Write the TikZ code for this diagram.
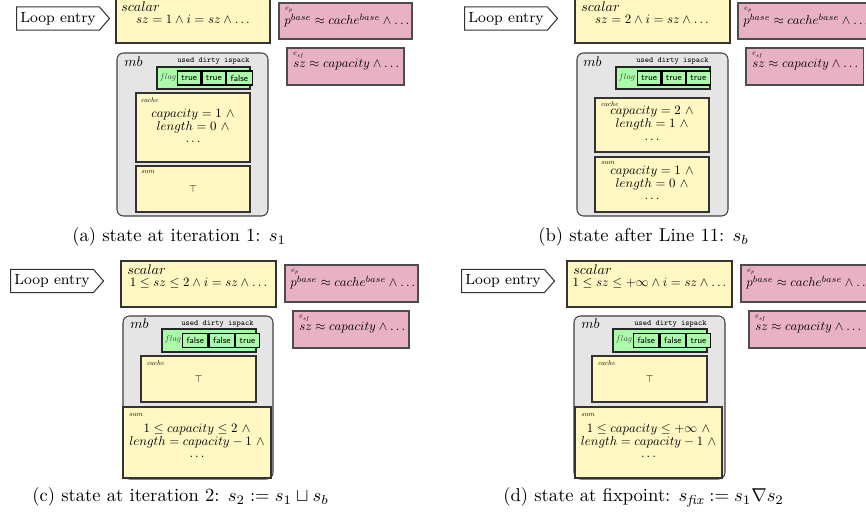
\documentclass[tikz,border=0pt]{standalone}
\usepackage{amsmath}
\usetikzlibrary{fit,shapes.symbols}

\definecolor{yel}{RGB}{255,248,194}
\definecolor{pnk}{RGB}{233,178,196}
\definecolor{grn}{RGB}{170,250,170}
\definecolor{gry}{RGB}{229,229,229}

% scaled math helpers (math sizes do not scale freely)
\newcommand\mth[1]{\scalebox{0.69}{$#1$}}
\newcommand\mlines[1]{\scalebox{0.69}{\def\arraystretch{0.81}\begin{tabular}{@{}c@{}}#1\end{tabular}}}
\newcommand\mhead[1]{\scalebox{0.75}{$#1$}}
\newcommand\mtiny[1]{\scalebox{0.38}{$#1$}}
\newcommand\medge[1]{\scalebox{0.42}{$#1$}}
\newcommand\mflag[1]{\scalebox{0.45}{$#1$}}
\newcommand\mtop{\scalebox{0.55}{$\top$}}

\tikzset{
  yelbox/.style={draw=black!80, fill=yel, line width=0.55pt, inner sep=0pt},
  pnkbox/.style={draw=black!70, fill=pnk, line width=0.55pt, inner sep=0pt},
  mbbox/.style={draw=black!75, fill=gry, rounded corners=3.5pt, line width=0.55pt, inner sep=0pt},
  flagbox/.style={draw=black!85, fill=grn, line width=0.55pt, inner sep=0pt},
  cell/.style={draw=black, fill=grn, line width=0.6pt, minimum height=7.5pt, inner sep=0pt,
    anchor=west, font=\fontsize{4.8}{5}\sffamily},
  cellT/.style={cell, minimum width=12.6pt},
  cellF/.style={cell, minimum width=13.7pt},
  loopbox/.style={signal, signal to=east, signal pointer angle=98, draw=black!80, fill=white,
    line width=0.55pt, minimum width=50pt, minimum height=12.4pt, inner xsep=2pt, inner ysep=0pt,
    font=\fontsize{7.9}{9}\selectfont, anchor=west},
  hdr/.style={inner sep=0pt, anchor=base west},
  cnt/.style={inner sep=0pt},
  lbl/.style={inner sep=0pt, anchor=base west},
  tag/.style={inner sep=0pt, anchor=base east, font=\fontsize{4.3}{5}\ttfamily},
  flg/.style={inner sep=0pt, anchor=base west, text=black!75},
  subcap/.style={inner sep=0pt, anchor=base west, font=\fontsize{10}{12}\selectfont},
}

\begin{document}
\begin{tikzpicture}[x=0.5376pt, y=-0.5376pt]
\useasboundingbox (0,0) rectangle (866,516);

% ---------- (a) state at iteration 1 ----------
\node[loopbox] (la) at (16,18.5) {Loop entry};
\node[yelbox, fit={(116,-3) (270,43)}] (sa) {};
\node[hdr] (sah) at (121,12) {\mhead{scalar}};
\node[cnt, anchor=base] (sam) at (193,24) {\mth{sz = 1 \wedge i = sz \wedge \ldots}};
\node[pnkbox, fit={(279,3) (412,39)}] (pa) {};
\node[lbl] (pal) at (285,10.5) {\medge{e_p}};
\node[cnt, anchor=base west] (pam) at (284,25) {\mth{p^{base} \approx cache^{base} \wedge \ldots}};
\node[pnkbox, fit={(287,48) (404,85)}] (qa) {};
\node[lbl] (qal) at (293,56) {\medge{e_{sf}}};
\node[cnt, anchor=base west] (qam) at (293,68) {\mth{sz \approx capacity \wedge \ldots}};
\node[mbbox, fit={(117,53) (268,216)}] (ma) {};
\node[hdr] (mah) at (124,67) {\mhead{mb}};
\node[tag] (mat) at (250,63) {used dirty ispack};
\node[flagbox, fit={(157,67) (250,89)}] (fa) {};
\node[flg] (fal) at (159.5,80) {\mflag{flag}};
\node[cellT] (fa1) at (177,78) {true};
\node[cellT] (fa2) at (fa1.east) {true};
\node[cellF] (fa3) at (fa2.east) {false};
\node[yelbox, fit={(136,93) (250,162)}] (ca) {};
\node[lbl] (cal) at (141,103) {\mtiny{cache}};
\node[cnt] (cam) at (ca.center) {\mlines{$capacity = 1\ \wedge$\\$length = 0\ \wedge$\\$\ldots$}};
\node[yelbox, fit={(136,166) (250,212)}] (ua) {};
\node[lbl] (ual) at (141,174) {\mtiny{sum}};
\node[cnt] (uam) at (ua.center) {\mtop};
\node[subcap] (capa) at (72,242) {(a) state at iteration 1: $s_1$};

% ---------- (b) state after Line 11 ----------
\node[loopbox] (lb) at (464,18.5) {Loop entry};
\node[yelbox, fit={(575,-3) (730,43)}] (sb) {};
\node[hdr] (sbh) at (581,12) {\mhead{scalar}};
\node[cnt, anchor=base] (sbm) at (652,24) {\mth{sz = 2 \wedge i = sz \wedge \ldots}};
\node[pnkbox, fit={(738,3) (871,39)}] (pb) {};
\node[lbl] (pbl) at (744,10.5) {\medge{e_p}};
\node[cnt, anchor=base west] (pbm) at (743,25) {\mth{p^{base} \approx cache^{base} \wedge \ldots}};
\node[pnkbox, fit={(746,48) (863,85)}] (qb) {};
\node[lbl] (qbl) at (752,56) {\medge{e_{sf}}};
\node[cnt, anchor=base west] (qbm) at (752,68) {\mth{sz \approx capacity \wedge \ldots}};
\node[mbbox, fit={(577,53) (728,216)}] (mb) {};
\node[hdr] (mbh) at (583,67) {\mhead{mb}};
\node[tag] (mbt) at (709,63) {used dirty ispack};
\node[flagbox, fit={(616,67) (710,89)}] (fb) {};
\node[flg] (fbl) at (618.5,80) {\mflag{flag}};
\node[cellT] (fb1) at (637,78) {true};
\node[cellT] (fb2) at (fb1.east) {true};
\node[cellT] (fb3) at (fb2.east) {true};
\node[yelbox, fit={(595,98) (709,152)}] (cb) {};
\node[lbl] (cbl) at (601,107) {\mtiny{cache}};
\node[cnt] (cbm) at (cb.center) {\mlines{$capacity = 2\ \wedge$\\$length = 1\ \wedge$\\$\ldots$}};
\node[yelbox, fit={(595,157) (709,212)}] (ub) {};
\node[lbl] (ubl) at (601,165) {\mtiny{sum}};
\node[cnt] (ubm) at (ub.center) {\mlines{$capacity = 1\ \wedge$\\$length = 0\ \wedge$\\$\ldots$}};
\node[subcap] (capb) at (538,242) {(b) state after Line 11: $s_b$};

% ---------- (c) state at iteration 2 ----------
\node[loopbox] (lc) at (10,281) {Loop entry};
\node[yelbox, fit={(121,261) (276,307)}] (sc) {};
\node[hdr] (sch) at (127,275) {\mhead{scalar}};
\node[cnt, anchor=base] (scm) at (198.5,287) {\mth{1 \leq sz \leq 2 \wedge i = sz \wedge \ldots}};
\node[pnkbox, fit={(285,265) (418,302)}] (pc) {};
\node[lbl] (pcl) at (291,272.5) {\medge{e_p}};
\node[cnt, anchor=base west] (pcm) at (290,287) {\mth{p^{base} \approx cache^{base} \wedge \ldots}};
\node[pnkbox, fit={(293,311) (409,348)}] (qc) {};
\node[lbl] (qcl) at (299,319) {\medge{e_{sf}}};
\node[cnt, anchor=base west] (qcm) at (299,331) {\mth{sz \approx capacity \wedge \ldots}};
\node[mbbox, fit={(123,316) (273,479)}] (mc) {};
\node[hdr] (mch) at (130,329) {\mhead{mb}};
\node[tag] (mct) at (254,326) {used dirty ispack};
\node[flagbox, fit={(162,329) (256,352)}] (fc) {};
\node[flg] (fcl) at (164.5,342) {\mflag{flag}};
\node[cellF] (fc1) at (182,340.5) {false};
\node[cellF] (fc2) at (fc1.east) {false};
\node[cellT] (fc3) at (fc2.east) {true};
\node[yelbox, fit={(141,356) (256,402)}] (cc) {};
\node[lbl] (ccl) at (147,366) {\mtiny{cache}};
\node[cnt] (ccm) at (cc.center) {\mtop};
\node[yelbox, fit={(123,407) (271,478)}] (uc) {};
\node[lbl] (ucl) at (129,417) {\mtiny{sum}};
\node[cnt] (ucm) at (uc.center) {\mlines{$1 \leq capacity \leq 2\ \wedge$\\$length = capacity - 1\ \wedge$\\$\ldots$}};
\node[subcap] (capc) at (32,502) {(c) state at iteration 2: $s_2 := s_1 \sqcup s_b$};

% ---------- (d) state at fixpoint ----------
\node[loopbox] (ld) at (461,281) {Loop entry};
\node[yelbox, fit={(567,261) (732,307)}] (sd) {};
\node[hdr] (sdh) at (573,275) {\mhead{scalar}};
\node[cnt, anchor=base] (sdm) at (649.5,287) {\mth{1 \leq sz \leq +\infty \wedge i = sz \wedge \ldots}};
\node[pnkbox, fit={(741,265) (874,302)}] (pd) {};
\node[lbl] (pdl) at (747,272.5) {\medge{e_p}};
\node[cnt, anchor=base west] (pdm) at (746,287) {\mth{p^{base} \approx cache^{base} \wedge \ldots}};
\node[pnkbox, fit={(749,311) (866,348)}] (qd) {};
\node[lbl] (qdl) at (755,319) {\medge{e_{sf}}};
\node[cnt, anchor=base west] (qdm) at (755,331) {\mth{sz \approx capacity \wedge \ldots}};
\node[mbbox, fit={(574,316) (725,479)}] (md) {};
\node[hdr] (mdh) at (581,329) {\mhead{mb}};
\node[tag] (mdt) at (707,326) {used dirty ispack};
\node[flagbox, fit={(613,329) (707,352)}] (fd) {};
\node[flg] (fdl) at (615.5,342) {\mflag{flag}};
\node[cellF] (fd1) at (633,340.5) {false};
\node[cellF] (fd2) at (fd1.east) {false};
\node[cellT] (fd3) at (fd2.east) {true};
\node[yelbox, fit={(592,356) (707,402)}] (cd) {};
\node[lbl] (cdl) at (598,366) {\mtiny{cache}};
\node[cnt] (cdm) at (cd.center) {\mtop};
\node[yelbox, fit={(575,407) (722,478)}] (ud) {};
\node[lbl] (udl) at (581,417) {\mtiny{sum}};
\node[cnt] (udm) at (ud.center) {\mlines{$1 \leq capacity \leq +\infty\ \wedge$\\$length = capacity - 1\ \wedge$\\$\ldots$}};
\node[subcap] (capd) at (503,502) {(d) state at fixpoint: $s_{\textit{fix}} := s_1 \nabla s_2$};
\end{tikzpicture}
\end{document}
